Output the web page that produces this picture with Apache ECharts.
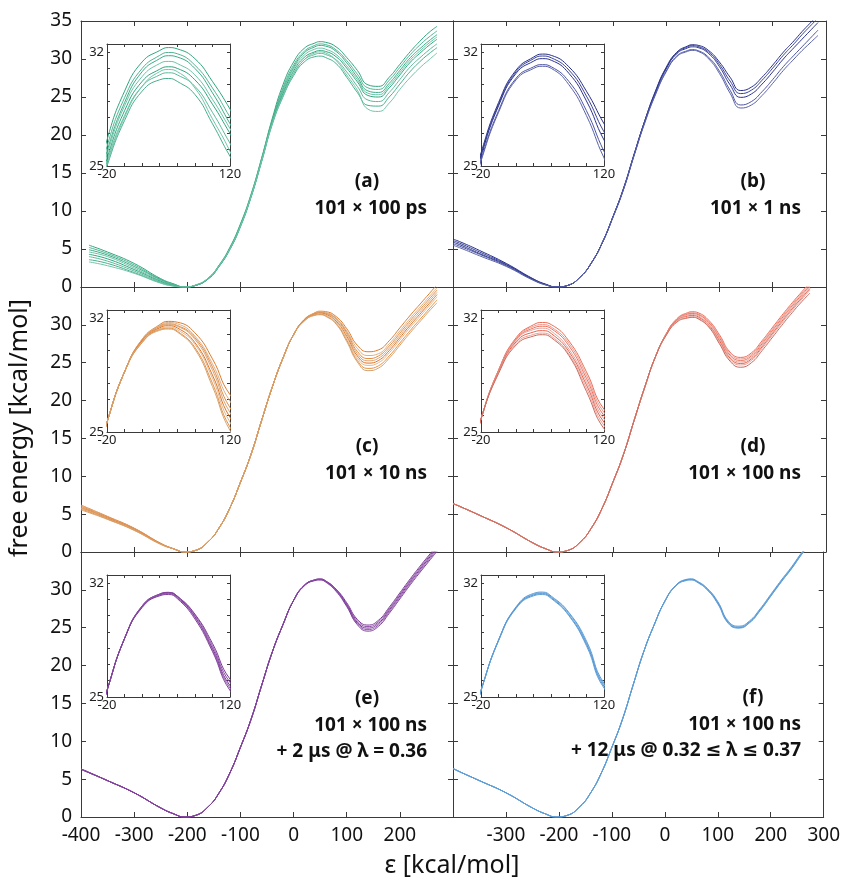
<!DOCTYPE html>
<html><head><meta charset="utf-8">
<script src="https://cdn.jsdelivr.net/npm/echarts@6/dist/echarts.min.js"></script>
<style>html,body{margin:0;padding:0;background:#fff}#c{width:843px;height:887px}</style>
</head><body><div id="c"></div>
<script>
// ---------- DATA ----------
const X = [-400, -385, -350, -300, -250, -225, -205, -185, -160, -140, -120, -100, -80, -60, -40, -20, 0, 20, 40, 50, 60, 80, 100, 120, 140, 160, 180, 200, 220, 240, 255, 270, 285];

const xTickLabelsLeft = [-400, -300, -200, -100, 0, 100, 200];
const xTickLabelsRight = [-300, -200, -100, 0, 100, 200, 300];
const yTickLabelsTop = [0, 5, 10, 15, 20, 25, 30, 35];
const yTickLabelsLower = [0, 5, 10, 15, 20, 25, 30];
const insetXLabels = [-20, 120];
const insetYLabels = [25, 32];

const panelA = [
  [null, 5.5, 4.6, 3.1, 1.1, 0.4, 0.0, 0.2, 1.2, 2.9, 5.2, 8.3, 12.2, 17.0, 22.2, 26.6, 29.6, 31.4, 32.1, 32.28, 32.2, 31.6, 30.2, 28.5, 26.6, 26.4, 27.6, 29.3, 31.0, 32.5, 33.5, 34.3, null],
  [null, 5.2, 4.4, 2.9, 1.0, 0.35, 0.0, 0.2, 1.2, 2.85, 5.1, 8.2, 12.1, 16.9, 22.0, 26.2, 29.2, 31.0, 31.8, 31.98, 31.9, 31.2, 29.8, 28.0, 26.2, 26.0, 27.2, 28.9, 30.6, 32.0, 32.9, 33.7, null],
  [null, 4.9, 4.2, 2.7, 0.95, 0.3, 0.0, 0.2, 1.15, 2.8, 5.05, 8.15, 12.0, 16.8, 21.9, 25.9, 28.9, 30.8, 31.6, 31.78, 31.7, 31.0, 29.5, 27.6, 25.8, 25.6, 26.8, 28.5, 30.2, 31.5, 32.4, 33.2, null],
  [null, 4.6, 4.0, 2.5, 0.85, 0.28, 0.0, 0.2, 1.15, 2.8, 5.0, 8.1, 12.0, 16.8, 21.8, 25.7, 28.7, 30.5, 31.3, 31.43, 31.3, 30.6, 29.1, 27.3, 25.5, 25.3, 26.5, 28.2, 29.9, 31.2, 32.1, 32.9, null],
  [null, 4.3, 3.7, 2.3, 0.75, 0.22, 0.0, 0.2, 1.1, 2.75, 5.0, 8.05, 11.9, 16.7, 21.7, 25.45, 28.4, 30.2, 30.95, 31.1, 31.0, 30.3, 28.8, 27.0, 25.2, 25.0, 26.2, 27.9, 29.6, 30.9, 31.8, 32.6, null],
  [null, 4.0, 3.4, 2.1, 0.65, 0.18, 0.0, 0.22, 1.15, 2.75, 4.95, 8.0, 11.9, 16.6, 21.6, 25.25, 28.1, 29.9, 30.6, 30.73, 30.6, 29.9, 28.3, 26.4, 24.6, 24.4, 25.6, 27.3, 29.0, 30.3, 31.2, 32.0, null],
  [null, 3.6, 3.1, 1.9, 0.55, 0.13, 0.0, 0.22, 1.1, 2.7, 4.9, 7.9, 11.8, 16.5, 21.4, 25.0, 27.8, 29.6, 30.3, 30.38, 30.2, 29.4, 27.6, 25.6, 23.9, 23.8, 25.0, 26.7, 28.4, 29.8, 30.7, 31.5, null],
  [null, 3.3, 2.8, 1.8, 0.5, 0.1, 0.0, 0.25, 1.2, 2.8, 5.0, 8.0, 11.9, 16.6, 21.5, 25.1, 28.0, 29.9, 30.8, 30.93, 30.8, 29.8, 27.9, 25.9, 23.4, 23.1, 24.2, 26.0, 27.6, 29.0, 29.9, 30.8, null]
];
const panelB = [
  [6.3, 5.9, 4.8, 3.1, 1.1, 0.35, 0.0, 0.2, 1.4, 3.2, 5.8, 9.2, 13.0, 17.5, 21.9, 25.8, 28.9, 30.9, 31.7, 31.88, 31.8, 31.1, 29.6, 27.6, 25.85, 26.3, 27.6, 29.2, 30.9, 32.4, 33.6, 34.7, 35.8],
  [6.1, 5.7, 4.6, 3.0, 1.05, 0.3, 0.0, 0.2, 1.4, 3.2, 5.8, 9.2, 12.9, 17.5, 21.9, 25.7, 28.8, 30.8, 31.6, 31.76, 31.65, 30.9, 29.3, 27.1, 25.45, 25.9, 27.2, 28.8, 30.5, 32.0, 33.2, 34.3, 35.4],
  [5.9, 5.5, 4.4, 2.9, 1.0, 0.3, 0.0, 0.2, 1.4, 3.2, 5.8, 9.2, 12.9, 17.4, 21.8, 25.6, 28.7, 30.7, 31.45, 31.6, 31.5, 30.7, 29.0, 26.6, 24.95, 25.4, 26.7, 28.3, 30.0, 31.5, 32.6, 33.7, 34.8],
  [5.7, 5.3, 4.3, 2.8, 0.95, 0.25, 0.0, 0.2, 1.4, 3.2, 5.8, 9.2, 12.9, 17.4, 21.7, 25.4, 28.4, 30.4, 31.1, 31.23, 31.1, 30.2, 28.4, 25.9, 23.95, 24.4, 25.7, 27.3, 29.0, 30.5, 31.6, 32.7, 33.8],
  [5.5, 5.1, 4.1, 2.7, 0.9, 0.25, 0.0, 0.2, 1.4, 3.2, 5.8, 9.1, 12.8, 17.3, 21.6, 25.3, 28.3, 30.3, 31.0, 31.13, 31.0, 30.0, 28.1, 25.5, 23.55, 23.95, 25.2, 26.8, 28.5, 30.0, 31.1, 32.1, 33.1]
];
const panelC = [
  [6.2, 5.75, 4.7, 3.15, 1.15, 0.4, 0.0, 0.2, 1.4, 3.2, 5.8, 9.2, 12.9, 17.4, 21.8, 25.6, 28.7, 30.7, 31.6, 31.8, 31.75, 31.1, 29.5, 27.3, 26.45, 26.7, 27.9, 29.6, 31.3, 32.9, 34.1, 35.3, null],
  [6.1, 5.7, 4.65, 3.1, 1.15, 0.4, 0.0, 0.2, 1.4, 3.2, 5.8, 9.2, 12.9, 17.4, 21.8, 25.6, 28.7, 30.7, 31.55, 31.73, 31.65, 30.9, 29.2, 26.9, 25.95, 26.2, 27.5, 29.2, 30.9, 32.5, 33.7, 34.9, null],
  [6.0, 5.6, 4.6, 3.1, 1.1, 0.4, 0.0, 0.2, 1.4, 3.2, 5.8, 9.2, 12.9, 17.4, 21.8, 25.6, 28.7, 30.65, 31.5, 31.65, 31.55, 30.8, 29.0, 26.5, 25.55, 25.9, 27.2, 28.9, 30.6, 32.2, 33.4, 34.6, null],
  [5.9, 5.5, 4.5, 3.05, 1.1, 0.4, 0.0, 0.2, 1.4, 3.2, 5.8, 9.2, 12.9, 17.4, 21.8, 25.6, 28.7, 30.6, 31.45, 31.6, 31.5, 30.7, 28.8, 26.2, 25.25, 25.6, 26.9, 28.6, 30.3, 31.9, 33.1, 34.3, null],
  [5.8, 5.45, 4.45, 3.0, 1.1, 0.4, 0.0, 0.2, 1.4, 3.2, 5.8, 9.2, 12.9, 17.4, 21.8, 25.6, 28.7, 30.6, 31.4, 31.53, 31.4, 30.5, 28.5, 25.9, 24.95, 25.3, 26.6, 28.3, 30.0, 31.6, 32.8, 34.0, null],
  [5.75, 5.4, 4.4, 2.95, 1.05, 0.4, 0.0, 0.2, 1.4, 3.2, 5.8, 9.2, 12.9, 17.4, 21.8, 25.6, 28.7, 30.55, 31.35, 31.45, 31.3, 30.4, 28.3, 25.6, 24.65, 25.0, 26.3, 28.0, 29.7, 31.3, 32.5, 33.7, null],
  [5.65, 5.3, 4.35, 2.9, 1.05, 0.4, 0.0, 0.2, 1.4, 3.2, 5.8, 9.2, 12.9, 17.4, 21.8, 25.6, 28.7, 30.5, 31.3, 31.38, 31.2, 30.2, 28.0, 25.3, 24.25, 24.6, 25.9, 27.6, 29.3, 30.9, 32.1, 33.3, null],
  [5.55, 5.2, 4.3, 2.85, 1.0, 0.4, 0.0, 0.2, 1.4, 3.2, 5.8, 9.2, 12.9, 17.4, 21.8, 25.6, 28.7, 30.5, 31.25, 31.33, 31.15, 30.1, 27.8, 25.1, 23.95, 24.3, 25.6, 27.3, 29.0, 30.6, 31.8, 32.9, null]
];
const panelD = [
  [6.4, 5.95, 4.85, 3.2, 1.2, 0.4, 0.0, 0.2, 1.4, 3.2, 5.8, 9.2, 12.9, 17.4, 21.8, 25.8, 28.8, 30.8, 31.6, 31.73, 31.6, 30.6, 28.7, 26.4, 25.7, 26.3, 27.9, 29.7, 31.5, 33.2, 34.4, 35.6, null],
  [6.4, 5.95, 4.85, 3.2, 1.2, 0.4, 0.0, 0.2, 1.4, 3.2, 5.8, 9.2, 12.9, 17.4, 21.8, 25.8, 28.8, 30.75, 31.5, 31.6, 31.45, 30.45, 28.5, 26.2, 25.5, 26.1, 27.7, 29.5, 31.3, 33.0, 34.2, 35.4, null],
  [6.4, 5.95, 4.85, 3.2, 1.2, 0.4, 0.0, 0.2, 1.4, 3.2, 5.8, 9.2, 12.9, 17.4, 21.8, 25.8, 28.8, 30.7, 31.4, 31.5, 31.35, 30.3, 28.3, 26.0, 25.3, 25.9, 27.5, 29.3, 31.1, 32.8, 34.0, 35.2, null],
  [6.4, 5.95, 4.85, 3.2, 1.2, 0.4, 0.0, 0.2, 1.4, 3.2, 5.8, 9.2, 12.9, 17.4, 21.8, 25.8, 28.75, 30.65, 31.3, 31.38, 31.2, 30.1, 28.1, 25.8, 25.1, 25.7, 27.3, 29.1, 30.9, 32.6, 33.8, 35.0, null],
  [6.4, 5.95, 4.85, 3.2, 1.2, 0.4, 0.0, 0.2, 1.4, 3.2, 5.8, 9.2, 12.9, 17.4, 21.8, 25.8, 28.7, 30.55, 31.15, 31.23, 31.05, 29.95, 27.9, 25.6, 24.9, 25.5, 27.1, 28.9, 30.7, 32.4, 33.6, 34.8, null],
  [6.4, 5.95, 4.85, 3.2, 1.2, 0.4, 0.0, 0.2, 1.4, 3.2, 5.8, 9.2, 12.9, 17.4, 21.8, 25.8, 28.65, 30.45, 31.0, 31.08, 30.9, 29.8, 27.7, 25.4, 24.7, 25.3, 26.9, 28.7, 30.5, 32.2, 33.4, 34.6, null],
  [6.4, 5.95, 4.85, 3.2, 1.2, 0.4, 0.0, 0.2, 1.4, 3.2, 5.8, 9.2, 12.9, 17.4, 21.8, 25.8, 28.6, 30.35, 30.9, 30.98, 30.8, 29.7, 27.5, 25.2, 24.4, 25.0, 26.6, 28.4, 30.2, 31.9, 33.1, 34.2, null]
];
const panelE = [
  [6.35, 5.9, 4.8, 3.2, 1.2, 0.4, 0.0, 0.2, 1.4, 3.2, 5.8, 9.2, 12.9, 17.4, 21.8, 25.4, 28.6, 30.6, 31.33, 31.43, 31.2, 30.1, 28.3, 26.1, 25.35, 26.0, 27.7, 29.6, 31.5, 33.3, 34.6, 35.9, null],
  [6.35, 5.9, 4.8, 3.2, 1.2, 0.4, 0.0, 0.2, 1.4, 3.2, 5.8, 9.2, 12.9, 17.4, 21.8, 25.4, 28.6, 30.6, 31.33, 31.43, 31.2, 30.05, 28.15, 25.9, 25.15, 25.8, 27.5, 29.4, 31.3, 33.1, 34.4, 35.7, null],
  [6.3, 5.85, 4.8, 3.2, 1.2, 0.4, 0.0, 0.2, 1.4, 3.2, 5.8, 9.2, 12.9, 17.4, 21.8, 25.4, 28.6, 30.55, 31.28, 31.38, 31.15, 29.95, 28.0, 25.7, 24.95, 25.6, 27.3, 29.2, 31.1, 32.9, 34.2, 35.5, null],
  [6.3, 5.85, 4.8, 3.2, 1.2, 0.4, 0.0, 0.2, 1.4, 3.2, 5.8, 9.2, 12.9, 17.4, 21.8, 25.4, 28.6, 30.55, 31.27, 31.35, 31.1, 29.9, 27.9, 25.55, 24.75, 25.4, 27.1, 29.0, 30.9, 32.7, 34.0, 35.3, null],
  [6.3, 5.85, 4.8, 3.2, 1.2, 0.4, 0.0, 0.2, 1.4, 3.2, 5.8, 9.2, 12.9, 17.4, 21.8, 25.4, 28.6, 30.5, 31.22, 31.3, 31.05, 29.8, 27.8, 25.4, 24.55, 25.2, 26.9, 28.8, 30.7, 32.5, 33.8, 35.1, null]
];
const panelF = [
  [6.4, 5.9, 4.8, 3.2, 1.2, 0.4, 0.0, 0.2, 1.4, 3.2, 5.8, 9.2, 12.9, 17.4, 21.8, 25.4, 28.5, 30.55, 31.37, 31.45, 31.2, 30.2, 28.45, 25.85, 25.2, 25.9, 27.5, 29.4, 31.3, 33.1, 34.6, 36.0, null],
  [6.4, 5.9, 4.8, 3.2, 1.2, 0.4, 0.0, 0.2, 1.4, 3.2, 5.8, 9.2, 12.9, 17.4, 21.8, 25.4, 28.5, 30.5, 31.32, 31.4, 31.15, 30.15, 28.35, 25.75, 25.1, 25.8, 27.4, 29.3, 31.2, 33.0, 34.5, 35.9, null],
  [6.4, 5.9, 4.8, 3.2, 1.2, 0.4, 0.0, 0.2, 1.4, 3.2, 5.8, 9.2, 12.9, 17.4, 21.8, 25.4, 28.5, 30.5, 31.27, 31.35, 31.1, 30.05, 28.25, 25.65, 25.0, 25.7, 27.3, 29.2, 31.1, 32.9, 34.4, 35.8, null],
  [6.4, 5.9, 4.8, 3.2, 1.2, 0.4, 0.0, 0.2, 1.4, 3.2, 5.8, 9.2, 12.9, 17.4, 21.8, 25.4, 28.45, 30.45, 31.22, 31.3, 31.05, 30.0, 28.15, 25.55, 24.95, 25.65, 27.25, 29.15, 31.05, 32.85, 34.35, 35.75, null]
];

const panelTags = ['(a)', '(b)', '(c)', '(d)', '(e)', '(f)'];
const panelTexts = [
  ['101 × 100 ps'],
  ['101 × 1 ns'],
  ['101 × 10 ns'],
  ['101 × 100 ns'],
  ['101 × 100 ns', '+ 2 μs @ λ = 0.36'],
  ['101 × 100 ns', '+ 12 μs @ 0.32 ≤ λ ≤ 0.37']
];

// ---------- STYLE / LAYOUT ----------
const FONT = "'Noto Sans', 'DejaVu Sans', sans-serif";
const AX = '#3a3a3a';
const panelData = [panelA, panelB, panelC, panelD, panelE, panelF];
const panelColors = [
  ['#2fa57f', '#52b493', '#3aab88', '#6ac3a6', '#2fa57f', '#5cb99a', '#46ae8c', '#73c4a9'],
  ['#27308a', '#3a4296', '#2b348e', '#4d55a3', '#5a62a8'],
  ['#e07a2a', '#d9b08a', '#e58a3c', '#d6a57a', '#e07020', '#dcb894', '#e8903f', '#d2a272'],
  ['#ee6a55', '#e79a90', '#f0705a', '#dba7a2', '#ea5f4b', '#e3a29a', '#c9695c'],
  ['#7b3a96', '#8a4aa4', '#75338f', '#9257ab', '#7f3f9b'],
  ['#5b9bd5', '#6aa5da', '#5193cf', '#62a0d7']
];
const COL_L = [81, 453], COL_W = [372, 373];
const ROW_T = [21, 287, 552], ROW_H = [266, 265, 265];
const INSET_DX = [26, 28];
const TAG_X = [367, 753], TEXT_R = [427, 801];
const TAG_DY = [161, 161, 160, 160, 147, 146];

const grids = [], xAxes = [], yAxes = [], series = [], graphics = [];

function axisBase(extra) {
  return Object.assign({
    type: 'value',
    axisLine: { show: true, onZero: false, lineStyle: { color: AX, width: 1 } },
    axisTick: { show: true, inside: true, length: 5, lineStyle: { color: AX, width: 1 } },
    splitLine: { show: false },
    axisLabel: { show: false }
  }, extra);
}

panelData.forEach((lines, i) => {
  const r = Math.floor(i / 2), c = i % 2;
  const g = grids.length;
  grids.push({ left: COL_L[c], top: ROW_T[r], width: COL_W[c], height: ROW_H[r] });
  const xLabels = c === 0 ? xTickLabelsLeft : xTickLabelsRight;
  const yLabels = r === 0 ? yTickLabelsTop : yTickLabelsLower;
  const xb = xAxes.length;
  xAxes.push(axisBase({ gridIndex: g, min: -400, max: 300, interval: 100, position: 'bottom',
    axisLabel: { show: r === 2, formatter: v => xLabels.includes(v) ? String(v) : '',
      fontSize: 19, color: '#111', fontFamily: FONT, margin: 9 } }));
  xAxes.push(axisBase({ gridIndex: g, min: -400, max: 300, interval: 100, position: 'top' }));
  const yl = yAxes.length;
  yAxes.push(axisBase({ gridIndex: g, min: 0, max: 35, interval: 5, position: 'left',
    axisLabel: { show: c === 0, formatter: v => yLabels.includes(v) ? String(v) : '',
      fontSize: 19, color: '#111', fontFamily: FONT, margin: 9 } }));
  yAxes.push(axisBase({ gridIndex: g, min: 0, max: 35, interval: 5, position: 'right' }));

  const gi = grids.length;
  grids.push({ left: COL_L[c] + INSET_DX[c], top: ROW_T[r] + 23, width: 123, height: 122,
    show: true, backgroundColor: '#fff', borderWidth: 0 });
  const ixb = xAxes.length;
  xAxes.push(axisBase({ gridIndex: gi, min: -20, max: 120, interval: 20, position: 'bottom',
    axisTick: { show: true, inside: true, length: 3, lineStyle: { color: AX } },
    axisLabel: { show: true, formatter: v => insetXLabels.includes(v) ? String(v) : '',
      fontSize: 13, color: '#222', fontFamily: FONT, margin: 2 } }));
  xAxes.push(axisBase({ gridIndex: gi, min: -20, max: 120, interval: 20, position: 'top',
    axisTick: { show: true, inside: true, length: 3, lineStyle: { color: AX } } }));
  const iyl = yAxes.length;
  yAxes.push(axisBase({ gridIndex: gi, min: 25, max: 32.5, interval: 1, position: 'left',
    axisTick: { show: true, inside: true, length: 3, lineStyle: { color: AX } },
    axisLabel: { show: true, formatter: v => insetYLabels.includes(v) ? String(v) : '',
      fontSize: 13, color: '#222', fontFamily: FONT, margin: 3 } }));
  yAxes.push(axisBase({ gridIndex: gi, min: 25, max: 32.5, interval: 1, position: 'right',
    axisTick: { show: true, inside: true, length: 3, lineStyle: { color: AX } } }));

  lines.forEach((ys, k) => {
    const data = X.map((x, j) => [x, ys[j]]).filter(p => p[1] !== null);
    const color = panelColors[i][k % panelColors[i].length];
    const common = { type: 'line', showSymbol: false, smooth: 0.5,
      clip: true, silent: true, animation: false, data: data,
      lineStyle: { color: color, width: 1 } };
    series.push(Object.assign({ xAxisIndex: xb, yAxisIndex: yl, z: 2 }, common));
    series.push(Object.assign({ xAxisIndex: ixb, yAxisIndex: iyl, z: 3 }, common));
  });

  const tagY = ROW_T[r] + TAG_DY[i];
  graphics.push({ type: 'text', x: TAG_X[c], y: tagY, style: { text: panelTags[i],
    fontSize: 19, fontWeight: 'bold', fontFamily: FONT, fill: '#111', textAlign: 'center', textVerticalAlign: 'middle' } });
  panelTexts[i].forEach((t, k) => {
    graphics.push({ type: 'text', x: TEXT_R[c], y: tagY + 27 + k * 26, style: { text: t,
      fontSize: 19, fontWeight: 'bold', fontFamily: FONT, fill: '#111', textAlign: 'right', textVerticalAlign: 'middle' } });
  });
});

graphics.push({ type: 'text', x: 20, y: 428, rotation: Math.PI / 2, style: { text: 'free energy [kcal/mol]',
  fontSize: 25, fontFamily: FONT, fill: '#111', textAlign: 'center', textVerticalAlign: 'middle' } });
graphics.push({ type: 'text', x: 452, y: 866, style: { text: 'ε [kcal/mol]',
  fontSize: 25, fontFamily: FONT, fill: '#111', textAlign: 'center', textVerticalAlign: 'middle' } });

const chart = echarts.init(document.getElementById('c'), null, { renderer: 'canvas' });
chart.setOption({
  backgroundColor: '#fff',
  animation: false,
  grid: grids, xAxis: xAxes, yAxis: yAxes, series: series, graphic: graphics
});
</script></body></html>
